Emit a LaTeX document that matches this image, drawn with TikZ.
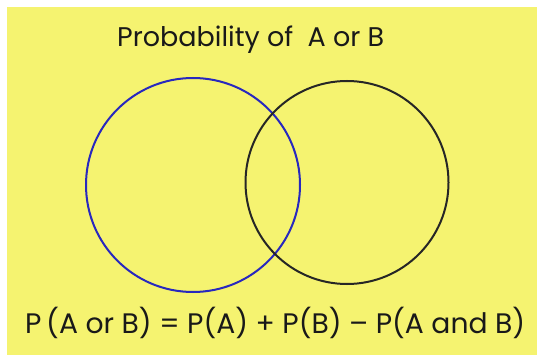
\documentclass[tikz,border=0pt]{standalone}
\usepackage{fontspec}
\setmainfont{Poppins}
\usepackage{tikz}
\usetikzlibrary{positioning}
\usetikzlibrary{calc}

\definecolor{paper}{RGB}{245,243,112}
\definecolor{setblue}{RGB}{40,40,190}

\tikzset{
  setA/.style={circle, draw=setblue, line width=2pt, minimum size=214pt, inner sep=0pt},
  setB/.style={circle, draw=black!85, line width=2pt, minimum size=203pt, inner sep=0pt},
  hand/.style={inner sep=0pt, text=black!90}
}

\begin{document}
\begin{tikzpicture}[x=1pt, y=-1pt]
    \useasboundingbox (0,0) rectangle (537,355);

    % Yellow paper
    \fill[paper] (7,7) rectangle (537,355);

    % Title
    \node[hand, font=\fontsize{27}{30}\selectfont, anchor=west] (title) at (117,40) {Probability of\ \ A or B};

    % The two sets
    \node[setA] (A) at (193,185) {};
    \node[setB] (B) at (347,182.5) {};

    % Formula
    \node[hand, font=\fontsize{28.2}{32}\selectfont, anchor=west] (rule) at (25,323) {P\,(A or B) = P(A) + P(B) -- P(A and B)};
\end{tikzpicture}
\end{document}
